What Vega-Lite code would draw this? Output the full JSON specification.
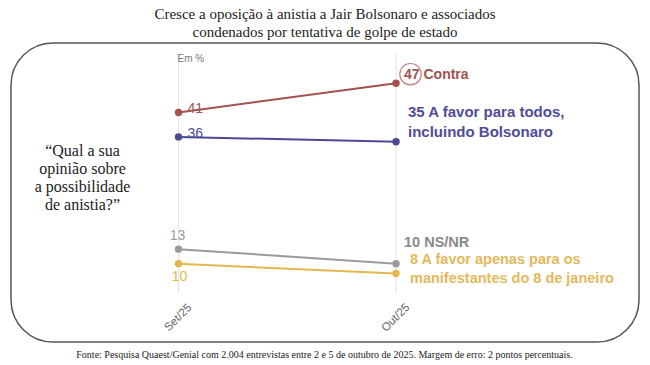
{
  "$schema": "https://vega.github.io/schema/vega-lite/v6.json",
  "width": 628,
  "height": 299,
  "autosize": "none",
  "padding": {"left": 11, "top": 43, "right": 11, "bottom": 23},
  "background": "white",
  "config": {
    "view": {"stroke": "#555555", "strokeWidth": 1.5, "cornerRadius": 42},
    "font": "Liberation Sans",
    "axisX": {
      "labels": false, "ticks": false, "domain": false, "grid": false,
      "titleFont": "Liberation Serif", "titleFontSize": 10, "titleFontWeight": "normal",
      "titleColor": "#222222", "titleBaseline": "middle", "titleAlign": "center",
      "titleX": 313, "titleY": 12
    },
    "axisY": {
      "labels": false, "ticks": false, "domain": false, "grid": false,
      "titleAngle": 0, "titleAlign": "center", "titleBaseline": "top",
      "titleX": 71, "titleY": 99,
      "titleFont": "Liberation Serif", "titleFontSize": 16, "titleFontWeight": "normal",
      "titleColor": "#222222", "titleLineHeight": 18
    }
  },
  "title": {
    "text": ["Cresce a oposição à anistia a Jair Bolsonaro e associados", "condenados por tentativa de golpe de estado"],
    "font": "Liberation Serif",
    "fontSize": 15,
    "fontWeight": "normal",
    "color": "#222222",
    "lineHeight": 18,
    "anchor": "middle",
    "frame": "group",
    "baseline": "bottom",
    "offset": 3,
    "dy": 15
  },
  "datasets": {
    "dados": [
      {"serie": "Contra", "mes": 9, "periodo": "Set/25", "valor": 41},
      {"serie": "Contra", "mes": 10, "periodo": "Out/25", "valor": 47},
      {"serie": "A favor para todos, incluindo Bolsonaro", "mes": 9, "periodo": "Set/25", "valor": 36},
      {"serie": "A favor para todos, incluindo Bolsonaro", "mes": 10, "periodo": "Out/25", "valor": 35},
      {"serie": "NS/NR", "mes": 9, "periodo": "Set/25", "valor": 13},
      {"serie": "NS/NR", "mes": 10, "periodo": "Out/25", "valor": 10},
      {"serie": "A favor apenas para os manifestantes do 8 de janeiro", "mes": 9, "periodo": "Set/25", "valor": 10},
      {"serie": "A favor apenas para os manifestantes do 8 de janeiro", "mes": 10, "periodo": "Out/25", "valor": 8}
    ],
    "periodos": [
      {"mes": 9, "periodo": "Set/25"},
      {"mes": 10, "periodo": "Out/25"}
    ]
  },
  "layer": [
    {
      "data": {"name": "periodos"},
      "mark": {"type": "rule", "color": "#e4e4e4", "strokeWidth": 1},
      "encoding": {
        "x": {"field": "mes", "type": "quantitative"},
        "y": {"datum": 53, "type": "quantitative"},
        "y2": {"datum": 4}
      }
    },
    {
      "data": {"name": "dados"},
      "mark": {"type": "line", "strokeWidth": 2},
      "encoding": {
        "x": {
          "field": "mes",
          "type": "quantitative",
          "scale": {"domain": [8.23, 11.117], "nice": false, "zero": false},
          "axis": {"title": "Fonte: Pesquisa Quaest/Genial com 2.004 entrevistas entre 2 e 5 de outubro de 2025. Margem de erro: 2 pontos percentuais."}
        },
        "y": {
          "field": "valor",
          "type": "quantitative",
          "scale": {"domain": [-6.03, 55.24], "nice": false, "zero": false},
          "axis": {"title": ["“Qual a sua", "opinião sobre", "a possibilidade", "de anistia?”"]}
        },
        "color": {
          "field": "serie", "type": "nominal", "legend": null,
          "scale": {
            "domain": ["Contra", "A favor para todos, incluindo Bolsonaro", "NS/NR", "A favor apenas para os manifestantes do 8 de janeiro"],
            "range": ["#a4524e", "#4b4896", "#9a9a9a", "#e4b74e"]
          }
        }
      }
    },
    {
      "data": {"name": "dados"},
      "mark": {"type": "point", "filled": true, "size": 55, "opacity": 1},
      "encoding": {
        "x": {"field": "mes", "type": "quantitative"},
        "y": {"field": "valor", "type": "quantitative"},
        "color": {"field": "serie", "type": "nominal", "legend": null}
      }
    },
    {
      "data": {"name": "dados"},
      "transform": [{"filter": {"and": [{"field": "mes", "equal": 9}, {"field": "serie", "oneOf": ["Contra", "A favor para todos, incluindo Bolsonaro"]}]}}],
      "mark": {"type": "text", "align": "left", "baseline": "alphabetic", "dx": 9, "dy": 1, "fontSize": 14},
      "encoding": {
        "x": {"field": "mes", "type": "quantitative"},
        "y": {"field": "valor", "type": "quantitative"},
        "text": {"field": "valor"},
        "color": {"field": "serie", "type": "nominal", "legend": null}
      }
    },
    {
      "data": {"name": "dados"},
      "transform": [{"filter": {"and": [{"field": "mes", "equal": 9}, {"field": "serie", "equal": "NS/NR"}]}}],
      "mark": {"type": "text", "align": "center", "baseline": "bottom", "dy": -6, "dx": -1, "fontSize": 14},
      "encoding": {
        "x": {"field": "mes", "type": "quantitative"},
        "y": {"field": "valor", "type": "quantitative"},
        "text": {"field": "valor"},
        "color": {"field": "serie", "type": "nominal", "legend": null}
      }
    },
    {
      "data": {"name": "dados"},
      "transform": [{"filter": {"and": [{"field": "mes", "equal": 9}, {"field": "serie", "equal": "A favor apenas para os manifestantes do 8 de janeiro"}]}}],
      "mark": {"type": "text", "align": "center", "baseline": "top", "dy": 6, "dx": 1, "fontSize": 14},
      "encoding": {
        "x": {"field": "mes", "type": "quantitative"},
        "y": {"field": "valor", "type": "quantitative"},
        "text": {"field": "valor"},
        "color": {"field": "serie", "type": "nominal", "legend": null}
      }
    },
    {
      "data": {"name": "dados"},
      "transform": [{"filter": {"and": [{"field": "mes", "equal": 10}, {"field": "serie", "equal": "Contra"}]}}],
      "mark": {"type": "point", "filled": false, "size": 460, "strokeWidth": 1.2, "color": "#a4524e", "xOffset": 14.5, "yOffset": -9},
      "encoding": {
        "x": {"field": "mes", "type": "quantitative"},
        "y": {"field": "valor", "type": "quantitative"}
      }
    },
    {
      "data": {"name": "dados"},
      "transform": [{"filter": {"and": [{"field": "mes", "equal": 10}, {"field": "serie", "equal": "Contra"}]}}],
      "mark": {"type": "text", "align": "left", "baseline": "middle", "dx": 8, "dy": -8, "fontSize": 14, "fontWeight": "bold", "color": "#a4524e"},
      "encoding": {
        "x": {"field": "mes", "type": "quantitative"},
        "y": {"field": "valor", "type": "quantitative"},
        "text": {"value": "47 Contra"}
      }
    },
    {
      "data": {"name": "dados"},
      "transform": [{"filter": {"and": [{"field": "mes", "equal": 10}, {"field": "serie", "equal": "A favor para todos, incluindo Bolsonaro"}]}}],
      "mark": {"type": "text", "align": "left", "baseline": "top", "dx": 12, "dy": -37, "fontSize": 15, "fontWeight": "bold", "lineHeight": 20, "color": "#4f4c98"},
      "encoding": {
        "x": {"field": "mes", "type": "quantitative"},
        "y": {"field": "valor", "type": "quantitative"},
        "text": {"value": ["35 A favor para todos,", "incluindo Bolsonaro"]}
      }
    },
    {
      "data": {"name": "dados"},
      "transform": [{"filter": {"and": [{"field": "mes", "equal": 10}, {"field": "serie", "equal": "NS/NR"}]}}],
      "mark": {"type": "text", "align": "left", "baseline": "middle", "dx": 8, "dy": -21, "fontSize": 14.5, "fontWeight": "bold", "color": "#8a8a8a"},
      "encoding": {
        "x": {"field": "mes", "type": "quantitative"},
        "y": {"field": "valor", "type": "quantitative"},
        "text": {"value": "10 NS/NR"}
      }
    },
    {
      "data": {"name": "dados"},
      "transform": [{"filter": {"and": [{"field": "mes", "equal": 10}, {"field": "serie", "equal": "A favor apenas para os manifestantes do 8 de janeiro"}]}}],
      "mark": {"type": "text", "align": "left", "baseline": "top", "dx": 14, "dy": -21, "fontSize": 14.5, "fontWeight": "bold", "lineHeight": 19, "color": "#e3b95c"},
      "encoding": {
        "x": {"field": "mes", "type": "quantitative"},
        "y": {"field": "valor", "type": "quantitative"},
        "text": {"value": ["8 A favor apenas para os", "manifestantes do 8 de janeiro"]}
      }
    },
    {
      "data": {"values": [{"rotulo": "Em %"}]},
      "mark": {"type": "text", "align": "left", "baseline": "middle", "dx": -1, "fontSize": 10, "color": "#777777"},
      "encoding": {
        "x": {"datum": 9, "type": "quantitative"},
        "y": {"datum": 52, "type": "quantitative"},
        "text": {"field": "rotulo"}
      }
    },
    {
      "data": {"name": "periodos"},
      "mark": {"type": "text", "align": "center", "baseline": "middle", "angle": -45, "fontSize": 11.5, "color": "#666666"},
      "encoding": {
        "x": {"field": "mes", "type": "quantitative"},
        "y": {"datum": -1.1, "type": "quantitative"},
        "text": {"field": "periodo"}
      }
    }
  ]
}
